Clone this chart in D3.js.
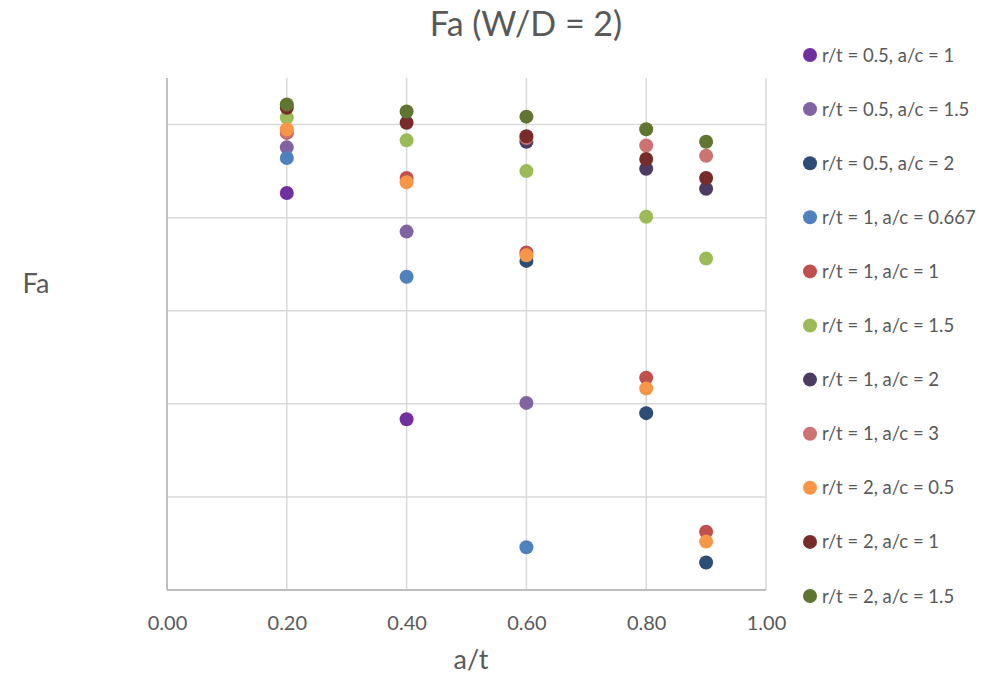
<!DOCTYPE html>
<html>
<head>
<meta charset="utf-8">
<script src="https://cdn.jsdelivr.net/npm/d3@7"></script>
<style>
  html, body { margin: 0; padding: 0; background: #fff; }
  svg { display: block; font-family: Lato, "Open Sans", sans-serif; }
</style>
</head>
<body>
<svg id="chart" width="1007" height="681"></svg>
<script>
// a/t positions shared by every series
const aOverT = [0.2, 0.4, 0.6, 0.8, 0.9];

// Series labels and colours
const seriesNames = [
  "r/t = 0.5, a/c = 1",
  "r/t = 0.5, a/c = 1.5",
  "r/t = 0.5, a/c = 2",
  "r/t = 1, a/c = 0.667",
  "r/t = 1, a/c = 1",
  "r/t = 1, a/c = 1.5",
  "r/t = 1, a/c = 2",
  "r/t = 1, a/c = 3",
  "r/t = 2, a/c = 0.5",
  "r/t = 2, a/c = 1",
  "r/t = 2, a/c = 1.5"
];
const seriesColors = [
  "#7030A0", "#8064A2", "#2C4D75", "#4F81BD", "#C0504D", "#9BBB59",
  "#4D3B62", "#CD7371", "#F79646", "#772C2A", "#5F7530"
];

// Fa values per series, aligned with aOverT (null = no point)
const fa_rt05_ac1   = [0.853, 0.367, null,  null,  null ];
const fa_rt05_ac15  = [0.951, 0.770, 0.402, null,  null ];
const fa_rt05_ac2   = [null,  null,  0.707, 0.380, 0.059];
const fa_rt1_ac0667 = [0.928, 0.673, 0.092, null,  null ];
const fa_rt1_ac1    = [0.982, 0.885, 0.725, 0.456, 0.125];
const fa_rt1_ac15   = [1.015, 0.966, 0.900, 0.802, 0.712];
const fa_rt1_ac2    = [null,  null,  0.963, 0.905, 0.862];
const fa_rt1_ac3    = [0.984, null,  0.971, 0.955, 0.933];
const fa_rt2_ac05   = [0.990, 0.876, 0.719, 0.433, 0.104];
const fa_rt2_ac1    = [1.036, 1.004, 0.975, 0.926, 0.885];
const fa_rt2_ac15   = [1.043, 1.028, 1.017, 0.990, 0.963];

const seriesValues = [
  fa_rt05_ac1, fa_rt05_ac15, fa_rt05_ac2, fa_rt1_ac0667, fa_rt1_ac1, fa_rt1_ac15,
  fa_rt1_ac2, fa_rt1_ac3, fa_rt2_ac05, fa_rt2_ac1, fa_rt2_ac15
];

const xTicks = [0, 0.2, 0.4, 0.6, 0.8, 1.0];
const yGrid = [0, 0.2, 0.4, 0.6, 0.8, 1.0];

const svg = d3.select("#chart");
const plot = { left: 167, right: 766, top: 78, bottom: 590 };

const x = d3.scaleLinear().domain([0, 1]).range([plot.left, plot.right]);
const y = d3.scaleLinear().domain([0, 1.1]).range([plot.bottom, plot.top]);

const textColor = "#595959";
const gridColor = "#D9D9D9";

// Horizontal gridlines
svg.append("g")
  .selectAll("line")
  .data(yGrid.slice(1))
  .join("line")
  .attr("x1", plot.left).attr("x2", plot.right)
  .attr("y1", d => y(d)).attr("y2", d => y(d))
  .attr("stroke", gridColor).attr("stroke-width", 1.5);

// Vertical gridlines
svg.append("g")
  .selectAll("line")
  .data(xTicks.slice(1))
  .join("line")
  .attr("x1", d => x(d)).attr("x2", d => x(d))
  .attr("y1", plot.top).attr("y2", plot.bottom)
  .attr("stroke", gridColor).attr("stroke-width", 1.5);

// Axis lines
svg.append("line")
  .attr("x1", plot.left).attr("x2", plot.left)
  .attr("y1", plot.top).attr("y2", plot.bottom)
  .attr("stroke", "#BFBFBF").attr("stroke-width", 2);
svg.append("line")
  .attr("x1", plot.left).attr("x2", plot.right)
  .attr("y1", plot.bottom).attr("y2", plot.bottom)
  .attr("stroke", "#BFBFBF").attr("stroke-width", 2);

// X axis labels via d3 axis
const xAxis = d3.axisBottom(x).tickValues(xTicks).tickFormat(d3.format(".2f")).tickSize(0).tickPadding(26);
const gx = svg.append("g").attr("transform", `translate(0,${plot.bottom})`).call(xAxis);
gx.select(".domain").remove();
gx.selectAll("text")
  .attr("fill", textColor)
  .style("font-size", "20px")
  .style("font-family", "Lato, 'Open Sans', sans-serif");

// Points
seriesValues.forEach((vals, i) => {
  const pts = aOverT.map((a, j) => ({ a, v: vals[j] })).filter(p => p.v != null);
  svg.append("g")
    .selectAll("circle")
    .data(pts)
    .join("circle")
    .attr("cx", d => x(d.a))
    .attr("cy", d => y(d.v))
    .attr("r", 7)
    .attr("fill", seriesColors[i]);
});

// Title and axis titles
svg.append("text")
  .attr("x", 526).attr("y", 36)
  .attr("text-anchor", "middle")
  .attr("fill", textColor)
  .style("font-size", "34px")
  .text("Fa (W/D = 2)");

svg.append("text")
  .attr("x", 36).attr("y", 293)
  .attr("text-anchor", "middle")
  .attr("fill", textColor)
  .style("font-size", "27px")
  .text("Fa");

svg.append("text")
  .attr("x", 471).attr("y", 669)
  .attr("text-anchor", "middle")
  .attr("fill", textColor)
  .style("font-size", "27px")
  .text("a/t");

// Legend
const legend = svg.append("g");
const legendY = d3.scaleLinear().domain([0, seriesNames.length - 1]).range([55, 596]);
seriesNames.forEach((name, i) => {
  const row = legend.append("g").attr("transform", `translate(810,${legendY(i)})`);
  row.append("circle").attr("cx", 0).attr("cy", 0).attr("r", 7).attr("fill", seriesColors[i]);
  row.append("text")
    .attr("x", 12).attr("y", 6.5)
    .attr("fill", textColor)
    .style("font-size", "18.5px")
    .text(name);
});
</script>
</body>
</html>
